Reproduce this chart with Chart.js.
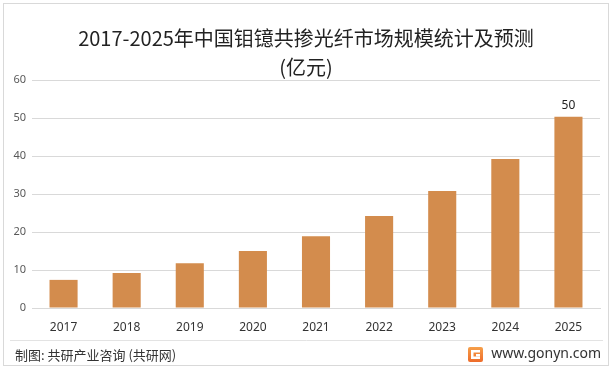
<!DOCTYPE html>
<html><head><meta charset="utf-8">
<script src="https://cdn.jsdelivr.net/npm/chart.js@4.4.1/dist/chart.umd.min.js"></script>
<style>html,body{margin:0;padding:0;background:#fff;}canvas{display:block;}</style>
</head><body>
<canvas id="c" width="613" height="370"></canvas>
<script>
const categories = ['2017','2018','2019','2020','2021','2022','2023','2024','2025'];
const values = [7.4, 9.2, 11.8, 15.0, 18.9, 24.2, 30.8, 39.2, 50.3];
const labeledIndex = [8];
const labeledText = ['50'];
const titleLines = ['2017-2025年中国钼镱共掺光纤市场规模统计及预测', '(亿元)'];
const footerLeft = '制图: 共研产业咨询 (共研网)';
const footerRight = 'www.gonyn.com';

const cjk = '"Microsoft YaHei","Noto Sans CJK SC",sans-serif';

const decor = {
  id: 'decor',
  beforeDraw(chart) {
    const ctx = chart.ctx;
    ctx.save();
    ctx.fillStyle = '#fff';
    ctx.fillRect(0, 0, 613, 370);
    ctx.strokeStyle = '#d9d9d9';
    ctx.lineWidth = 1;
    ctx.strokeRect(3.5, 3.5, 605, 362);
    ctx.beginPath();
    ctx.moveTo(10, 340.5); ctx.lineTo(603, 340.5);
    ctx.strokeStyle = '#e3e3e3';
    ctx.stroke();
    ctx.restore();
  },
  afterDraw(chart) {
    const ctx = chart.ctx;
    ctx.save();
    ctx.fillStyle = '#222';
    ctx.textAlign = 'center';
    ctx.textBaseline = 'middle';
    ctx.font = '20px ' + cjk;
    ctx.fillText(titleLines[0], 306, 38);
    ctx.fillText(titleLines[1], 306, 67);
    // data labels
    const meta = chart.getDatasetMeta(0);
    ctx.font = '12px "Noto Sans", sans-serif';
    ctx.fillStyle = '#222';
    labeledIndex.forEach((i, k) => {
      const el = meta.data[i];
      ctx.fillText(labeledText[k], el.x, el.y - 11);
    });
    // footer
    ctx.textAlign = 'left';
    ctx.font = '13px ' + cjk;
    ctx.fillStyle = '#333';
    ctx.fillText(footerLeft, 15, 355);
    ctx.textAlign = 'right';
    ctx.font = '14px "Noto Sans", sans-serif';
    ctx.fillText(footerRight, 601, 354);
    // logo
    const lx = 468, ly = 347;
    const g = ctx.createLinearGradient(lx, ly, lx, ly + 15);
    g.addColorStop(0, '#f6a04a'); g.addColorStop(1, '#ee6b2a');
    ctx.fillStyle = g;
    ctx.beginPath();
    ctx.roundRect(lx, ly, 15, 15, 2);
    ctx.fill();
    ctx.fillStyle = '#fff';
    ctx.fillRect(lx + 3, ly + 3, 9, 2.5);
    ctx.fillRect(lx + 3, ly + 3, 2.5, 9);
    ctx.fillRect(lx + 3, ly + 9.5, 9, 2.5);
    ctx.fillRect(lx + 8, ly + 7, 4, 2.5);
    ctx.restore();
  }
};

new Chart(document.getElementById('c'), {
  type: 'bar',
  data: {
    labels: categories,
    datasets: [{
      data: values,
      backgroundColor: '#d38c4d',
      borderWidth: 0,
      barPercentage: 0.445,
      categoryPercentage: 1.0
    }]
  },
  options: {
    responsive: false,
    animation: false,
    devicePixelRatio: 1,
    layout: { padding: { top: 80, left: 8, right: 13, bottom: 34 } },
    plugins: { legend: { display: false }, tooltip: { enabled: false }, title: { display: false } },
    scales: {
      x: {
        grid: { display: false },
        border: { display: true, color: '#d9d9d9', width: 1 },
        ticks: { color: '#333', font: { size: 12, family: '"Noto Sans", sans-serif' }, padding: 4 },
        afterFit(s) { s.height = 28; }
      },
      y: {
        min: 0, max: 60,
        ticks: { stepSize: 10, color: '#595959', font: { size: 11, family: '"Noto Sans", sans-serif' }, padding: 6 },
        grid: { color: '#d9d9d9', drawTicks: false },
        border: { display: false },
        afterFit(s) { s.width = 24; }
      }
    }
  },
  plugins: [decor]
});
</script>
</body></html>
